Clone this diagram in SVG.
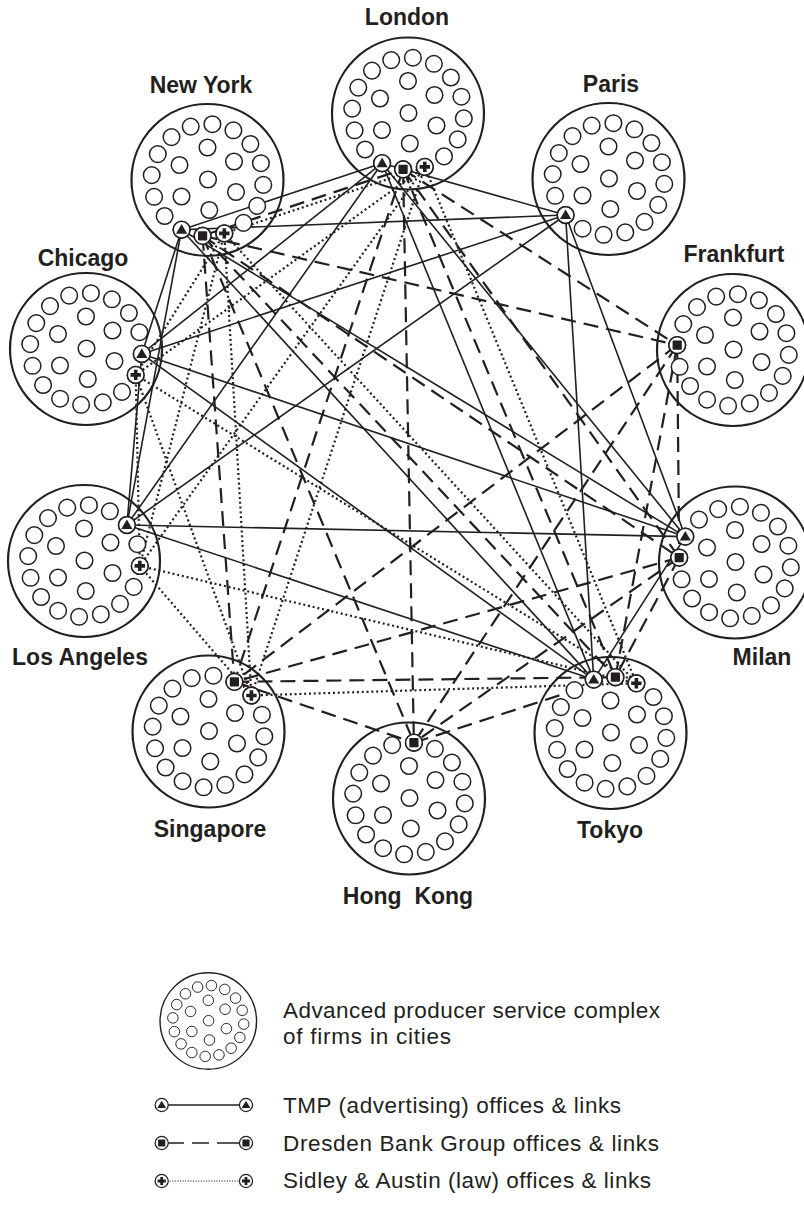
<svg xmlns="http://www.w3.org/2000/svg" xmlns:xlink="http://www.w3.org/1999/xlink" width="804" height="1228" viewBox="0 0 804 1228">
  <defs>
    <style>
      .city{fill:none;stroke:#231f20;stroke-width:2.2}
      .firm{fill:#fff;stroke:#231f20;stroke-width:1.5}
      .office{fill:#fff;stroke:#231f20;stroke-width:1.6}
      .ink{fill:#231f20}
      .label{font-family:"Liberation Sans",Arial,Helvetica,sans-serif;font-weight:bold;font-size:23px;fill:#231f20;text-anchor:middle}
      .key{font-family:"Liberation Sans",Arial,Helvetica,sans-serif;font-size:22.5px;fill:#231f20}
      .tmp line{stroke:#231f20;stroke-width:1.6}
      .dresden line{stroke:#231f20;stroke-width:2.2;stroke-dasharray:15 8}
      .sidley line{stroke:#231f20;stroke-width:2.2;stroke-dasharray:2 2.8}
    </style>
    <!-- a city: outline plus its ring of firms -->
    <g id="complex">
      <circle class="city" r="76"/>
      <circle class="firm" cx="4.9" cy="-55.8" r="8.3"/>
      <circle class="firm" cx="25.9" cy="-49.7" r="8.3"/>
      <circle class="firm" cx="42.9" cy="-36" r="8.3"/>
      <circle class="firm" cx="53.4" cy="-16.8" r="8.3"/>
      <circle class="firm" cx="55.8" cy="4.9" r="8.3"/>
      <circle class="firm" cx="49.7" cy="25.9" r="8.3"/>
      <circle class="firm" cx="36" cy="42.9" r="8.3"/>
      <circle class="firm" cx="16.8" cy="53.4" r="8.3"/>
      <circle class="firm" cx="-4.9" cy="55.8" r="8.3"/>
      <circle class="firm" cx="-25.9" cy="49.7" r="8.3"/>
      <circle class="firm" cx="-42.9" cy="36" r="8.3"/>
      <circle class="firm" cx="-53.4" cy="16.8" r="8.3"/>
      <circle class="firm" cx="-55.8" cy="-4.9" r="8.3"/>
      <circle class="firm" cx="-49.7" cy="-25.9" r="8.3"/>
      <circle class="firm" cx="-36" cy="-42.9" r="8.3"/>
      <circle class="firm" cx="-16.8" cy="-53.4" r="8.3"/>
      <circle class="firm" cx="0" cy="-32.5" r="8.3"/>
      <circle class="firm" cx="-28" cy="-15" r="8.3"/>
      <circle class="firm" cx="26.5" cy="-18.5" r="8.3"/>
      <circle class="firm" cx="0.5" cy="-0.5" r="8.3"/>
      <circle class="firm" cx="-26" cy="16.5" r="8.3"/>
      <circle class="firm" cx="28.5" cy="12" r="8.3"/>
      <circle class="firm" cx="1.8" cy="30" r="8.3"/>
    </g>
    <!-- office markers -->
    <g id="m-tmp">
      <circle class="office" r="8.4"/>
      <path class="ink" d="M0,-5.6 L5.6,4 L-5.6,4 Z"/>
    </g>
    <g id="m-dresden">
      <circle class="office" r="8.4"/>
      <rect class="ink" x="-4.6" y="-4.6" width="9.2" height="9.2" rx="0.8"/>
    </g>
    <g id="m-sidley">
      <circle class="office" r="8.4"/>
      <path class="ink" d="M-1.8,-5.2 H1.8 V-1.8 H5.2 V1.8 H1.8 V5.2 H-1.8 V1.8 H-5.2 V-1.8 H-1.8 Z"/>
    </g>
  </defs>

  <rect width="804" height="1228" fill="#fff"/>

  <!-- links between offices -->
  <g id="connectors">
    <g class="tmp">
      <line x1="181.6" y1="229.7" x2="382.1" y2="163.2"/>
      <line x1="181.6" y1="229.7" x2="565.6" y2="215"/>
      <line x1="181.6" y1="229.7" x2="141.8" y2="353.9"/>
      <line x1="181.6" y1="229.7" x2="126.9" y2="525"/>
      <line x1="181.6" y1="229.7" x2="685.3" y2="536.6"/>
      <line x1="181.6" y1="229.7" x2="593.7" y2="679.6"/>
      <line x1="382.1" y1="163.2" x2="565.6" y2="215"/>
      <line x1="382.1" y1="163.2" x2="141.8" y2="353.9"/>
      <line x1="382.1" y1="163.2" x2="126.9" y2="525"/>
      <line x1="382.1" y1="163.2" x2="685.3" y2="536.6"/>
      <line x1="382.1" y1="163.2" x2="593.7" y2="679.6"/>
      <line x1="565.6" y1="215" x2="141.8" y2="353.9"/>
      <line x1="565.6" y1="215" x2="126.9" y2="525"/>
      <line x1="565.6" y1="215" x2="685.3" y2="536.6"/>
      <line x1="565.6" y1="215" x2="593.7" y2="679.6"/>
      <line x1="141.8" y1="353.9" x2="126.9" y2="525"/>
      <line x1="141.8" y1="353.9" x2="685.3" y2="536.6"/>
      <line x1="141.8" y1="353.9" x2="593.7" y2="679.6"/>
      <line x1="126.9" y1="525" x2="685.3" y2="536.6"/>
      <line x1="126.9" y1="525" x2="593.7" y2="679.6"/>
      <line x1="685.3" y1="536.6" x2="593.7" y2="679.6"/>
    </g>
    <g class="dresden">
      <line x1="202.6" y1="235.8" x2="403.1" y2="169.3"/>
      <line x1="202.6" y1="235.8" x2="677.2" y2="345.1"/>
      <line x1="202.6" y1="235.8" x2="679.2" y2="557.6"/>
      <line x1="202.6" y1="235.8" x2="234.4" y2="681.8"/>
      <line x1="202.6" y1="235.8" x2="413.9" y2="742.7"/>
      <line x1="202.6" y1="235.8" x2="615.4" y2="677.2"/>
      <line x1="403.1" y1="169.3" x2="677.2" y2="345.1"/>
      <line x1="403.1" y1="169.3" x2="679.2" y2="557.6"/>
      <line x1="403.1" y1="169.3" x2="234.4" y2="681.8"/>
      <line x1="403.1" y1="169.3" x2="413.9" y2="742.7"/>
      <line x1="403.1" y1="169.3" x2="615.4" y2="677.2"/>
      <line x1="677.2" y1="345.1" x2="679.2" y2="557.6"/>
      <line x1="677.2" y1="345.1" x2="234.4" y2="681.8"/>
      <line x1="677.2" y1="345.1" x2="413.9" y2="742.7"/>
      <line x1="677.2" y1="345.1" x2="615.4" y2="677.2"/>
      <line x1="679.2" y1="557.6" x2="234.4" y2="681.8"/>
      <line x1="679.2" y1="557.6" x2="413.9" y2="742.7"/>
      <line x1="679.2" y1="557.6" x2="615.4" y2="677.2"/>
      <line x1="234.4" y1="681.8" x2="413.9" y2="742.7"/>
      <line x1="234.4" y1="681.8" x2="615.4" y2="677.2"/>
      <line x1="413.9" y1="742.7" x2="615.4" y2="677.2"/>
    </g>
    <g class="sidley">
      <line x1="224.3" y1="233.4" x2="424.8" y2="166.9"/>
      <line x1="224.3" y1="233.4" x2="135.7" y2="374.9"/>
      <line x1="224.3" y1="233.4" x2="139.8" y2="565.9"/>
      <line x1="224.3" y1="233.4" x2="251.4" y2="695.5"/>
      <line x1="224.3" y1="233.4" x2="636.4" y2="683.3"/>
      <line x1="424.8" y1="166.9" x2="135.7" y2="374.9"/>
      <line x1="424.8" y1="166.9" x2="139.8" y2="565.9"/>
      <line x1="424.8" y1="166.9" x2="251.4" y2="695.5"/>
      <line x1="424.8" y1="166.9" x2="636.4" y2="683.3"/>
      <line x1="135.7" y1="374.9" x2="139.8" y2="565.9"/>
      <line x1="135.7" y1="374.9" x2="251.4" y2="695.5"/>
      <line x1="135.7" y1="374.9" x2="636.4" y2="683.3"/>
      <line x1="139.8" y1="565.9" x2="251.4" y2="695.5"/>
      <line x1="139.8" y1="565.9" x2="636.4" y2="683.3"/>
      <line x1="251.4" y1="695.5" x2="636.4" y2="683.3"/>
    </g>
  </g>

  <!-- cities -->
  <g id="london">
    <use xlink:href="#complex" href="#complex" transform="translate(408,113.5)"/>
    <use xlink:href="#m-tmp" href="#m-tmp" transform="translate(382.1,163.2)"/>
    <use xlink:href="#m-dresden" href="#m-dresden" transform="translate(403.1,169.3)"/>
    <use xlink:href="#m-sidley" href="#m-sidley" transform="translate(424.8,166.9)"/>
    <text class="label" x="407" y="25">London</text>
  </g>
  <g id="new-york">
    <use xlink:href="#complex" href="#complex" transform="translate(207.5,180)"/>
    <use xlink:href="#m-tmp" href="#m-tmp" transform="translate(181.6,229.7)"/>
    <use xlink:href="#m-dresden" href="#m-dresden" transform="translate(202.6,235.8)"/>
    <use xlink:href="#m-sidley" href="#m-sidley" transform="translate(224.3,233.4)"/>
    <text class="label" x="201" y="93">New York</text>
  </g>
  <g id="paris">
    <use xlink:href="#complex" href="#complex" transform="translate(608.5,179)"/>
    <use xlink:href="#m-tmp" href="#m-tmp" transform="translate(565.6,215)"/>
    <text class="label" x="611" y="92">Paris</text>
  </g>
  <g id="chicago">
    <use xlink:href="#complex" href="#complex" transform="translate(86,349)"/>
    <use xlink:href="#m-tmp" href="#m-tmp" transform="translate(141.8,353.9)"/>
    <use xlink:href="#m-sidley" href="#m-sidley" transform="translate(135.7,374.9)"/>
    <text class="label" x="83" y="266">Chicago</text>
  </g>
  <g id="frankfurt">
    <use xlink:href="#complex" href="#complex" transform="translate(733,350)"/>
    <use xlink:href="#m-dresden" href="#m-dresden" transform="translate(677.2,345.1)"/>
    <text class="label" x="734" y="262">Frankfurt</text>
  </g>
  <g id="los-angeles">
    <use xlink:href="#complex" href="#complex" transform="translate(84,561)"/>
    <use xlink:href="#m-tmp" href="#m-tmp" transform="translate(126.9,525)"/>
    <use xlink:href="#m-sidley" href="#m-sidley" transform="translate(139.8,565.9)"/>
    <text class="label" x="80" y="665">Los Angeles</text>
  </g>
  <g id="milan">
    <use xlink:href="#complex" href="#complex" transform="translate(735,562.5)"/>
    <use xlink:href="#m-tmp" href="#m-tmp" transform="translate(685.3,536.6)"/>
    <use xlink:href="#m-dresden" href="#m-dresden" transform="translate(679.2,557.6)"/>
    <text class="label" x="762" y="665">Milan</text>
  </g>
  <g id="singapore">
    <use xlink:href="#complex" href="#complex" transform="translate(208.5,731.5)"/>
    <use xlink:href="#m-dresden" href="#m-dresden" transform="translate(234.4,681.8)"/>
    <use xlink:href="#m-sidley" href="#m-sidley" transform="translate(251.4,695.5)"/>
    <text class="label" x="210" y="837">Singapore</text>
  </g>
  <g id="hong-kong">
    <use xlink:href="#complex" href="#complex" transform="translate(409,798.5)"/>
    <use xlink:href="#m-dresden" href="#m-dresden" transform="translate(413.9,742.7)"/>
    <text class="label" x="408" y="904" xml:space="preserve">Hong  Kong</text>
  </g>
  <g id="tokyo">
    <use xlink:href="#complex" href="#complex" transform="translate(610.5,733)"/>
    <use xlink:href="#m-tmp" href="#m-tmp" transform="translate(593.7,679.6)"/>
    <use xlink:href="#m-dresden" href="#m-dresden" transform="translate(615.4,677.2)"/>
    <use xlink:href="#m-sidley" href="#m-sidley" transform="translate(636.4,683.3)"/>
    <text class="label" x="610" y="838">Tokyo</text>
  </g>

  <!-- key -->
  <g id="legend">
    <use xlink:href="#complex" href="#complex" transform="translate(208.3,1021) scale(0.635)"/>
    <text class="key" x="283" y="1018" textLength="377" lengthAdjust="spacing">Advanced producer service complex</text>
    <text class="key" x="283" y="1044" textLength="168" lengthAdjust="spacing">of firms in cities</text>

    <line x1="161.7" y1="1105" x2="246" y2="1105" stroke="#231f20" stroke-width="1.3"/>
    <use xlink:href="#m-tmp" href="#m-tmp" transform="translate(161.7,1105) scale(0.78)"/>
    <use xlink:href="#m-tmp" href="#m-tmp" transform="translate(246,1105) scale(0.78)"/>
    <text class="key" x="283" y="1113" textLength="338" lengthAdjust="spacing">TMP (advertising) offices &amp; links</text>

    <line x1="167" y1="1143" x2="241" y2="1143" stroke="#231f20" stroke-width="1.5" stroke-dasharray="17 8 17 8 24"/>
    <use xlink:href="#m-dresden" href="#m-dresden" transform="translate(161.7,1143) scale(0.78)"/>
    <use xlink:href="#m-dresden" href="#m-dresden" transform="translate(246,1143) scale(0.78)"/>
    <text class="key" x="283" y="1151" textLength="376" lengthAdjust="spacing">Dresden Bank Group offices &amp; links</text>

    <line x1="167" y1="1181" x2="241" y2="1181" stroke="#231f20" stroke-width="1.2" stroke-dasharray="1.1 1.5"/>
    <use xlink:href="#m-sidley" href="#m-sidley" transform="translate(161.7,1181) scale(0.78)"/>
    <use xlink:href="#m-sidley" href="#m-sidley" transform="translate(246,1181) scale(0.78)"/>
    <text class="key" x="283" y="1188" textLength="368" lengthAdjust="spacing">Sidley &amp; Austin (law) offices &amp; links</text>
  </g>
</svg>
